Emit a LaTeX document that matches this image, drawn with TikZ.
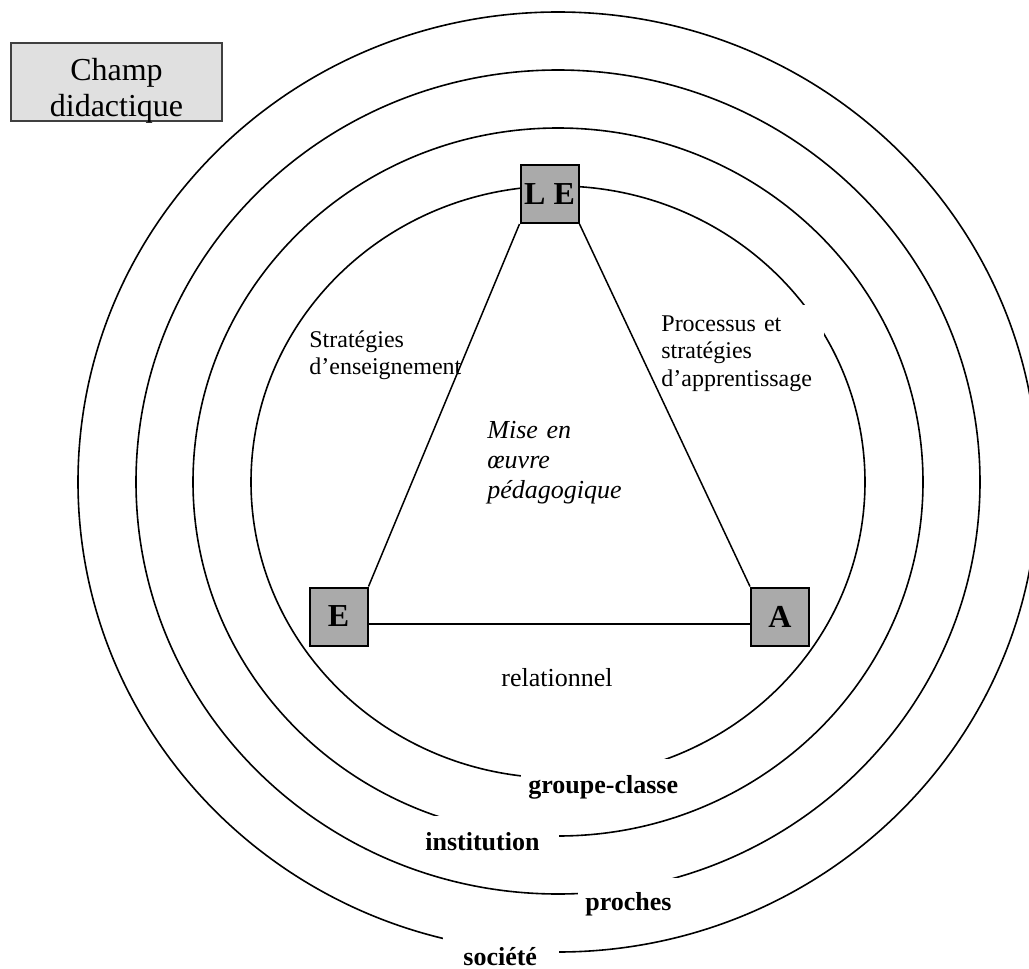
\documentclass[tikz,border=0pt]{standalone}
\usepackage{fontspec}
\setmainfont{Liberation Serif}
\definecolor{polegray}{RGB}{170,170,170}
\definecolor{champgray}{RGB}{224,224,224}
\begin{document}
\begin{tikzpicture}[x=0.5pt,y=-0.5pt,
  ring/.style={line width=0.8pt},
  edge/.style={line width=0.75pt},
  pole/.style={draw, line width=1pt, fill=polegray, minimum width=29pt, minimum height=29pt, inner sep=0pt, font=\fontsize{16}{18}\selectfont\bfseries},
  lab/.style={fill=white, inner ysep=0pt, align=left, anchor=base west},
  ringlab/.style={lab, font=\fontsize{13}{15}\selectfont\bfseries},
  smalllab/.style={lab, font=\fontsize{12}{13.8}\selectfont},
  champ/.style={draw=black!75, line width=0.6pt, fill=champgray, align=center, anchor=base, inner xsep=0pt, inner ysep=0pt, font=\fontsize{16}{18.4}\selectfont},
]
\useasboundingbox (0,0) rectangle (1029,969);
\clip (0,0) rectangle (1029,969);

% concentric rings
\draw[ring] (558,482) ellipse [x radius=480, y radius=470];
\draw[ring] (558,482) ellipse [x radius=422, y radius=412];
\draw[ring] (558,482) ellipse [x radius=365, y radius=354];
\draw[ring] (558,482) ellipse [x radius=307, y radius=296];

% ring labels
\node[ringlab, inner xsep=3.5pt, text width=78pt, text height=17pt, text depth=3.5pt] (gc) at (521,793) {groupe-classe};
\node[ringlab, inner xsep=1pt, text width=66pt, text height=17pt, text depth=3.5pt] (inst) at (423,850) {institution};
\node[ringlab, inner xsep=3.5pt, text width=44pt, text height=16pt, text depth=2.5pt] (proch) at (578,910) {proches};
\node[ringlab, inner xsep=10pt, text width=38pt, text height=14pt, text depth=5pt] (soc) at (443,965) {société};

% side labels
\node[smalllab, inner xsep=1pt, text width=87pt, text height=13.5pt, text depth=24.5pt] (strat) at (307,347) {Stratégies\\d’enseignement};
\node[smalllab, inner xsep=1pt, text width=80.5pt, text height=13pt, text depth=33.5pt] (proc) at (659,331) {Processus et\\stratégies\\d’apprentissage};
\node[lab, fill=none, inner xsep=0pt, text width=80pt, font=\fontsize{13}{15}\selectfont\itshape] (mise) at (487,438) {Mise en\\œuvre\\pédagogique};
\node[lab, fill=none, inner xsep=0pt, font=\fontsize{13}{15}\selectfont] (rel) at (501,686) {relationnel};

% title box
\node[champ, text width=105.5pt, text height=18.5pt, text depth=20.5pt] (champ) at (116.5,80) {Champ\\didactique};

% poles
\node[pole] (LE) at (549.5,194) {L E};
\node[pole] (E) at (338.5,616.5) {E};
\node[pole] (A) at (780,616.5) {A};

% triangle
\draw[edge] (LE.south west) -- (E.north east);
\draw[edge] (LE.south east) -- (A.north west);
\draw[edge] (E.-14) -- (A.194);
\end{tikzpicture}
\end{document}
